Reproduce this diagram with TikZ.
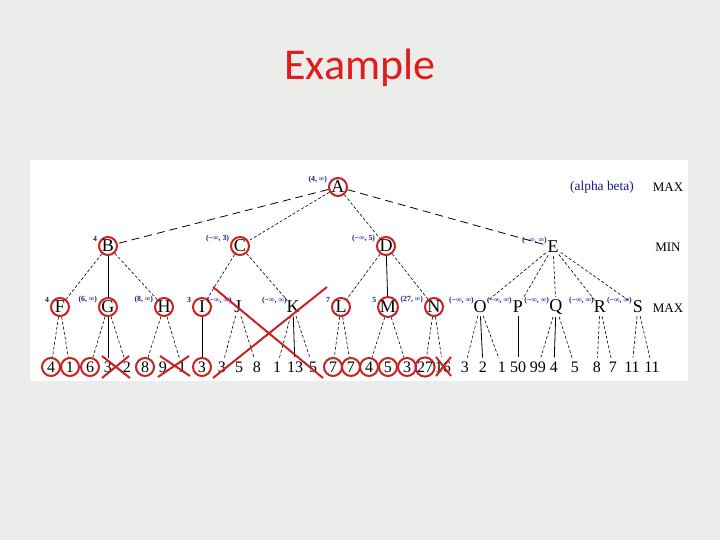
\documentclass[tikz,border=0pt]{standalone}
\usepackage{fontspec}
\setmainfont{Liberation Serif}
\newfontfamily\titlefont{Carlito}
\definecolor{slidebg}{RGB}{236,236,234}
\definecolor{markred}{RGB}{200,34,34}
\definecolor{valblue}{RGB}{25,25,140}
\definecolor{titlered}{RGB}{222,30,30}

\begin{document}
\begin{tikzpicture}[x=0.5pt, y=-0.5pt,
 every node/.style={font=\fontsize{8}{9}\selectfont, inner sep=0pt},
 hit/.style={circle, minimum size=9pt, draw=markred, line width=1pt},
 bare/.style={circle, minimum size=9pt},
 big/.style={font=\fontsize{9}{10}\selectfont},
 lab/.style={font=\fontsize{3.9}{5}\selectfont\bfseries, text=valblue},
 ab/.style={label={[lab, label distance=0.6pt]160:#1}},
 abx/.style={label={[lab, label distance=-1.6pt]160:#1}},
 side/.style={font=\fontsize{6.5}{7}\selectfont},
 fine/.style={dash pattern=on 1.5pt off 1pt, line width=0.3pt},
 long/.style={dash pattern=on 4pt off 2.5pt, line width=0.4pt},
 full/.style={line width=0.4pt},
 xline/.style={draw=markred, line width=1pt}]

 \fill[slidebg] (0,0) rectangle (720,540);
 \fill[white] (30,160) rectangle (688,381);
 \useasboundingbox (0,0) rectangle (720,540);

 \node[font=\titlefont\fontsize{22}{24}\selectfont, text=titlered] (title) at (360,68) {Example};

 % row labels
 \node[text=valblue, font=\fontsize{6.7}{7}\selectfont] (ab) at (602,187) {(alpha beta)};
 \node[side] (max1) at (668,187) {MAX};
 \node[side] (min1) at (668,247) {MIN};
 \node[side] (max2) at (668,308) {MAX};

 % root and MIN level
 \node[hit, big, ab={(4, ∞)}] (A) at (338,187) {A};
 \node[hit, big, ab={4}] (B) at (108,246) {B};
 \node[hit, big, ab={(−∞, 3)}] (C) at (240,246) {C};
 \node[hit, big, ab={(−∞, 5)}] (D) at (386,246) {D};
 \node[bare, big, abx={(−∞, ∞)}] (E) at (553,247) {E};

 % MAX level
 \node[hit, big, ab={4}] (F) at (60,307) {F};
 \node[hit, big, ab={(6, ∞)}] (G) at (108,307) {G};
 \node[hit, big, ab={(8, ∞)}] (H) at (164,307) {H};
 \node[hit, big, ab={3}] (I) at (202,307) {I};
 \node[bare, big, abx={(−∞, ∞)}] (J) at (238,307) {J};
 \node[bare, big, abx={(−∞, ∞)}] (K) at (293,307) {K};
 \node[hit, big, ab={7}] (L) at (341,307) {L};
 \node[hit, big, ab={5}] (M) at (388,307) {M};
 \node[hit, big, ab={(27, ∞)}] (N) at (434,307) {N};
 \node[bare, big, abx={(−∞, ∞)}] (O) at (480,307) {O};
 \node[bare, big, abx={(−∞, ∞)}] (P) at (518,307) {P};
 \node[bare, big, abx={(−∞, ∞)}] (Q) at (556,307) {Q};
 \node[bare, big, abx={(−∞, ∞)}] (R) at (600,307) {R};
 \node[bare, big, abx={(−∞, ∞)}] (S) at (638,307) {S};

 % leaves
 \node[hit] (l1) at (51,367) {4};
 \node[hit] (l2) at (70,367) {1};
 \node[hit] (l3) at (90,367) {6};
 \node[bare] (l4) at (108,367) {3};
 \node[bare] (l5) at (127,367) {2};
 \node[hit] (l6) at (145,367) {8};
 \node[bare] (l7) at (163,367) {9};
 \node[bare] (l8) at (182,367) {1};
 \node[hit] (l9) at (202,367) {3};
 \node[bare] (l10) at (222,367) {3};
 \node[bare] (l11) at (239,367) {5};
 \node[bare] (l12) at (257,367) {8};
 \node[bare] (l13) at (277,367) {1};
 \node[bare] (l14) at (295,367) {13};
 \node[bare] (l15) at (313,367) {5};
 \node[hit] (l16) at (333,367) {7};
 \node[hit] (l17) at (351,367) {7};
 \node[hit] (l18) at (369,367) {4};
 \node[hit] (l19) at (388,367) {5};
 \node[hit] (l20) at (407,367) {3};
 \node[hit] (l21) at (425,367) {27};
 \node[bare] (l22) at (443,367) {16};
 \node[bare] (l23) at (465,367) {3};
 \node[bare] (l24) at (483,367) {2};
 \node[bare] (l25) at (502,367) {1};
 \node[bare] (l26) at (518,367) {50};
 \node[bare] (l27) at (538,367) {99};
 \node[bare] (l28) at (554,367) {4};
 \node[bare] (l29) at (575,367) {5};
 \node[bare] (l30) at (597,367) {8};
 \node[bare] (l31) at (613,367) {7};
 \node[bare] (l32) at (632,367) {11};
 \node[bare] (l33) at (652,367) {11};

 % edges
 \draw[long] (A) -- (B);
 \draw[long] (A) -- (E);
 \draw[fine] (A) -- (C);
 \draw[fine] (A) -- (D);

 \draw[fine] (B) -- (F);
 \draw[full] (B) -- (G);
 \draw[fine] (B) -- (H);
 \draw[fine] (C) -- (I);
 \draw[fine] (C) -- (K);
 \draw[fine] (D) -- (L);
 \draw[full] (D) -- (M);
 \draw[fine] (D) -- (N);
 \draw[fine] (E) -- (O);
 \draw[fine] (E) -- (P);
 \draw[fine] (E) -- (Q);
 \draw[fine] (E) -- (R);
 \draw[fine] (E) -- (S);

 \draw[fine] (F) -- (l1);
 \draw[fine] (F) -- (l2);
 \draw[fine] (G) -- (l3);
 \draw[full] (G) -- (l4);
 \draw[fine] (G) -- (l5);
 \draw[fine] (H) -- (l6);
 \draw[fine] (H) -- (l8);
 \draw[full] (I) -- (l9);
 \draw[fine] (J) -- (l10);
 \draw[fine] (J) -- (l12);
 \draw[fine] (K) -- (l13);
 \draw[full] (K) -- (l14);
 \draw[fine] (K) -- (l15);
 \draw[fine] (L) -- (l16);
 \draw[fine] (L) -- (l17);
 \draw[fine] (M) -- (l18);
 \draw[fine] (M) -- (l20);
 \draw[fine] (N) -- (l21);
 \draw[fine] (N) -- (l22);
 \draw[fine] (O) -- (l23);
 \draw[full] (O) -- (l24);
 \draw[fine] (O) -- (l25);
 \draw[full] (P) -- (l26);
 \draw[fine] (Q) -- (l27);
 \draw[full] (Q) -- (l28);
 \draw[fine] (Q) -- (l29);
 \draw[fine] (R) -- (l30);
 \draw[fine] (R) -- (l31);
 \draw[fine] (S) -- (l32);
 \draw[fine] (S) -- (l33);

 % pruned parts
 \draw[xline] (102,356) -- (130,378) (129,356) -- (102,378);
 \draw[xline] (160,356) -- (190,376) (189,356) -- (158,377);
 \draw[xline] (436,357) -- (451,376) (451,357) -- (436,376);
 \draw[xline] (213,287) -- (323,378) (327,287) -- (213,378);
\end{tikzpicture}
\end{document}
